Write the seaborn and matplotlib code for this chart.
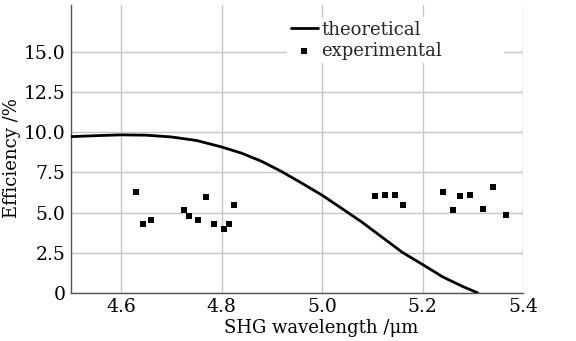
import pandas as pd
import seaborn as sns
import matplotlib.pyplot as plt
from matplotlib.ticker import FuncFormatter

# theoretical curve
theory_wl = [4.50, 4.55, 4.60, 4.65, 4.70, 4.75, 4.80, 4.84, 4.88, 4.92,
             4.96, 5.00, 5.04, 5.08, 5.10, 5.16, 5.20, 5.24, 5.28, 5.31]
theory_eff = [9.72, 9.78, 9.83, 9.81, 9.70, 9.48, 9.08, 8.69, 8.18, 7.54,
              6.82, 6.08, 5.24, 4.39, 3.92, 2.52, 1.77, 1.00, 0.40, 0.00]

# experimental points
exp_wl = [4.630, 4.644, 4.660, 4.725, 4.735, 4.754, 4.770, 4.785, 4.805, 4.815, 4.824,
          5.105, 5.125, 5.146, 5.161, 5.240, 5.260, 5.275, 5.295, 5.320, 5.341, 5.366]
exp_eff = [6.27, 4.29, 4.56, 5.15, 4.81, 4.56, 5.98, 4.29, 4.00, 4.29, 5.44,
           6.00, 6.08, 6.08, 5.44, 6.25, 5.15, 6.00, 6.08, 5.23, 6.58, 4.86]

x_ticks = [4.6, 4.8, 5.0, 5.2, 5.4]
y_ticks = [0, 2.5, 5.0, 7.5, 10.0, 12.5, 15.0]

theory_df = pd.DataFrame({'wl': theory_wl, 'eff': theory_eff})
exp_df = pd.DataFrame({'wl': exp_wl, 'eff': exp_eff})

sns.set_style('white')
plt.rcParams['font.family'] = ['DejaVu Serif']
plt.rcParams['font.size'] = 12

fig = plt.figure(figsize=(5.76, 3.41), dpi=100)
ax = fig.add_axes([0.123, 0.141, 0.785, 0.844])

sns.lineplot(data=theory_df, x='wl', y='eff', ax=ax, color='black', linewidth=2,
             label='theoretical', zorder=3)
sns.scatterplot(data=exp_df, x='wl', y='eff', ax=ax, color='black', marker='s',
                s=16, linewidth=0, label='experimental', zorder=3)

ax.set_xlim(4.5, 5.4)
ax.set_ylim(0, 17.9)
ax.set_xticks(x_ticks)
ax.set_yticks(y_ticks)
ax.yaxis.set_major_formatter(FuncFormatter(lambda v, p: '0' if v == 0 else f'{v:.1f}'))
ax.grid(True, color='#c9c3c9', linewidth=1)
ax.set_axisbelow(True)
ax.tick_params(length=0, pad=4, labelsize=13.5, labelcolor='black')

for side in ['top', 'right']:
    ax.spines[side].set_visible(False)
for side in ['left', 'bottom']:
    ax.spines[side].set_color('#555555')
    ax.spines[side].set_linewidth(1)

ax.set_xlabel('SHG wavelength /μm', fontsize=13, color='black')
ax.set_ylabel('Efficiency /%', fontsize=13, color='black')
ax.xaxis.set_label_coords(0.553, -0.09)
ax.yaxis.set_label_coords(-0.11, 0.47)

leg = ax.legend(loc='upper left', bbox_to_anchor=(0.478, 0.77, 0.48, 0.188),
                mode='expand', frameon=True, fancybox=False, handlelength=1.5,
                handletextpad=0.2, borderpad=0.2, labelspacing=0.15, fontsize=13,
                borderaxespad=0)
leg.get_frame().set_edgecolor('none')
leg.get_frame().set_facecolor('white')
leg.get_frame().set_alpha(1)

plt.savefig('out.png', dpi=100)
